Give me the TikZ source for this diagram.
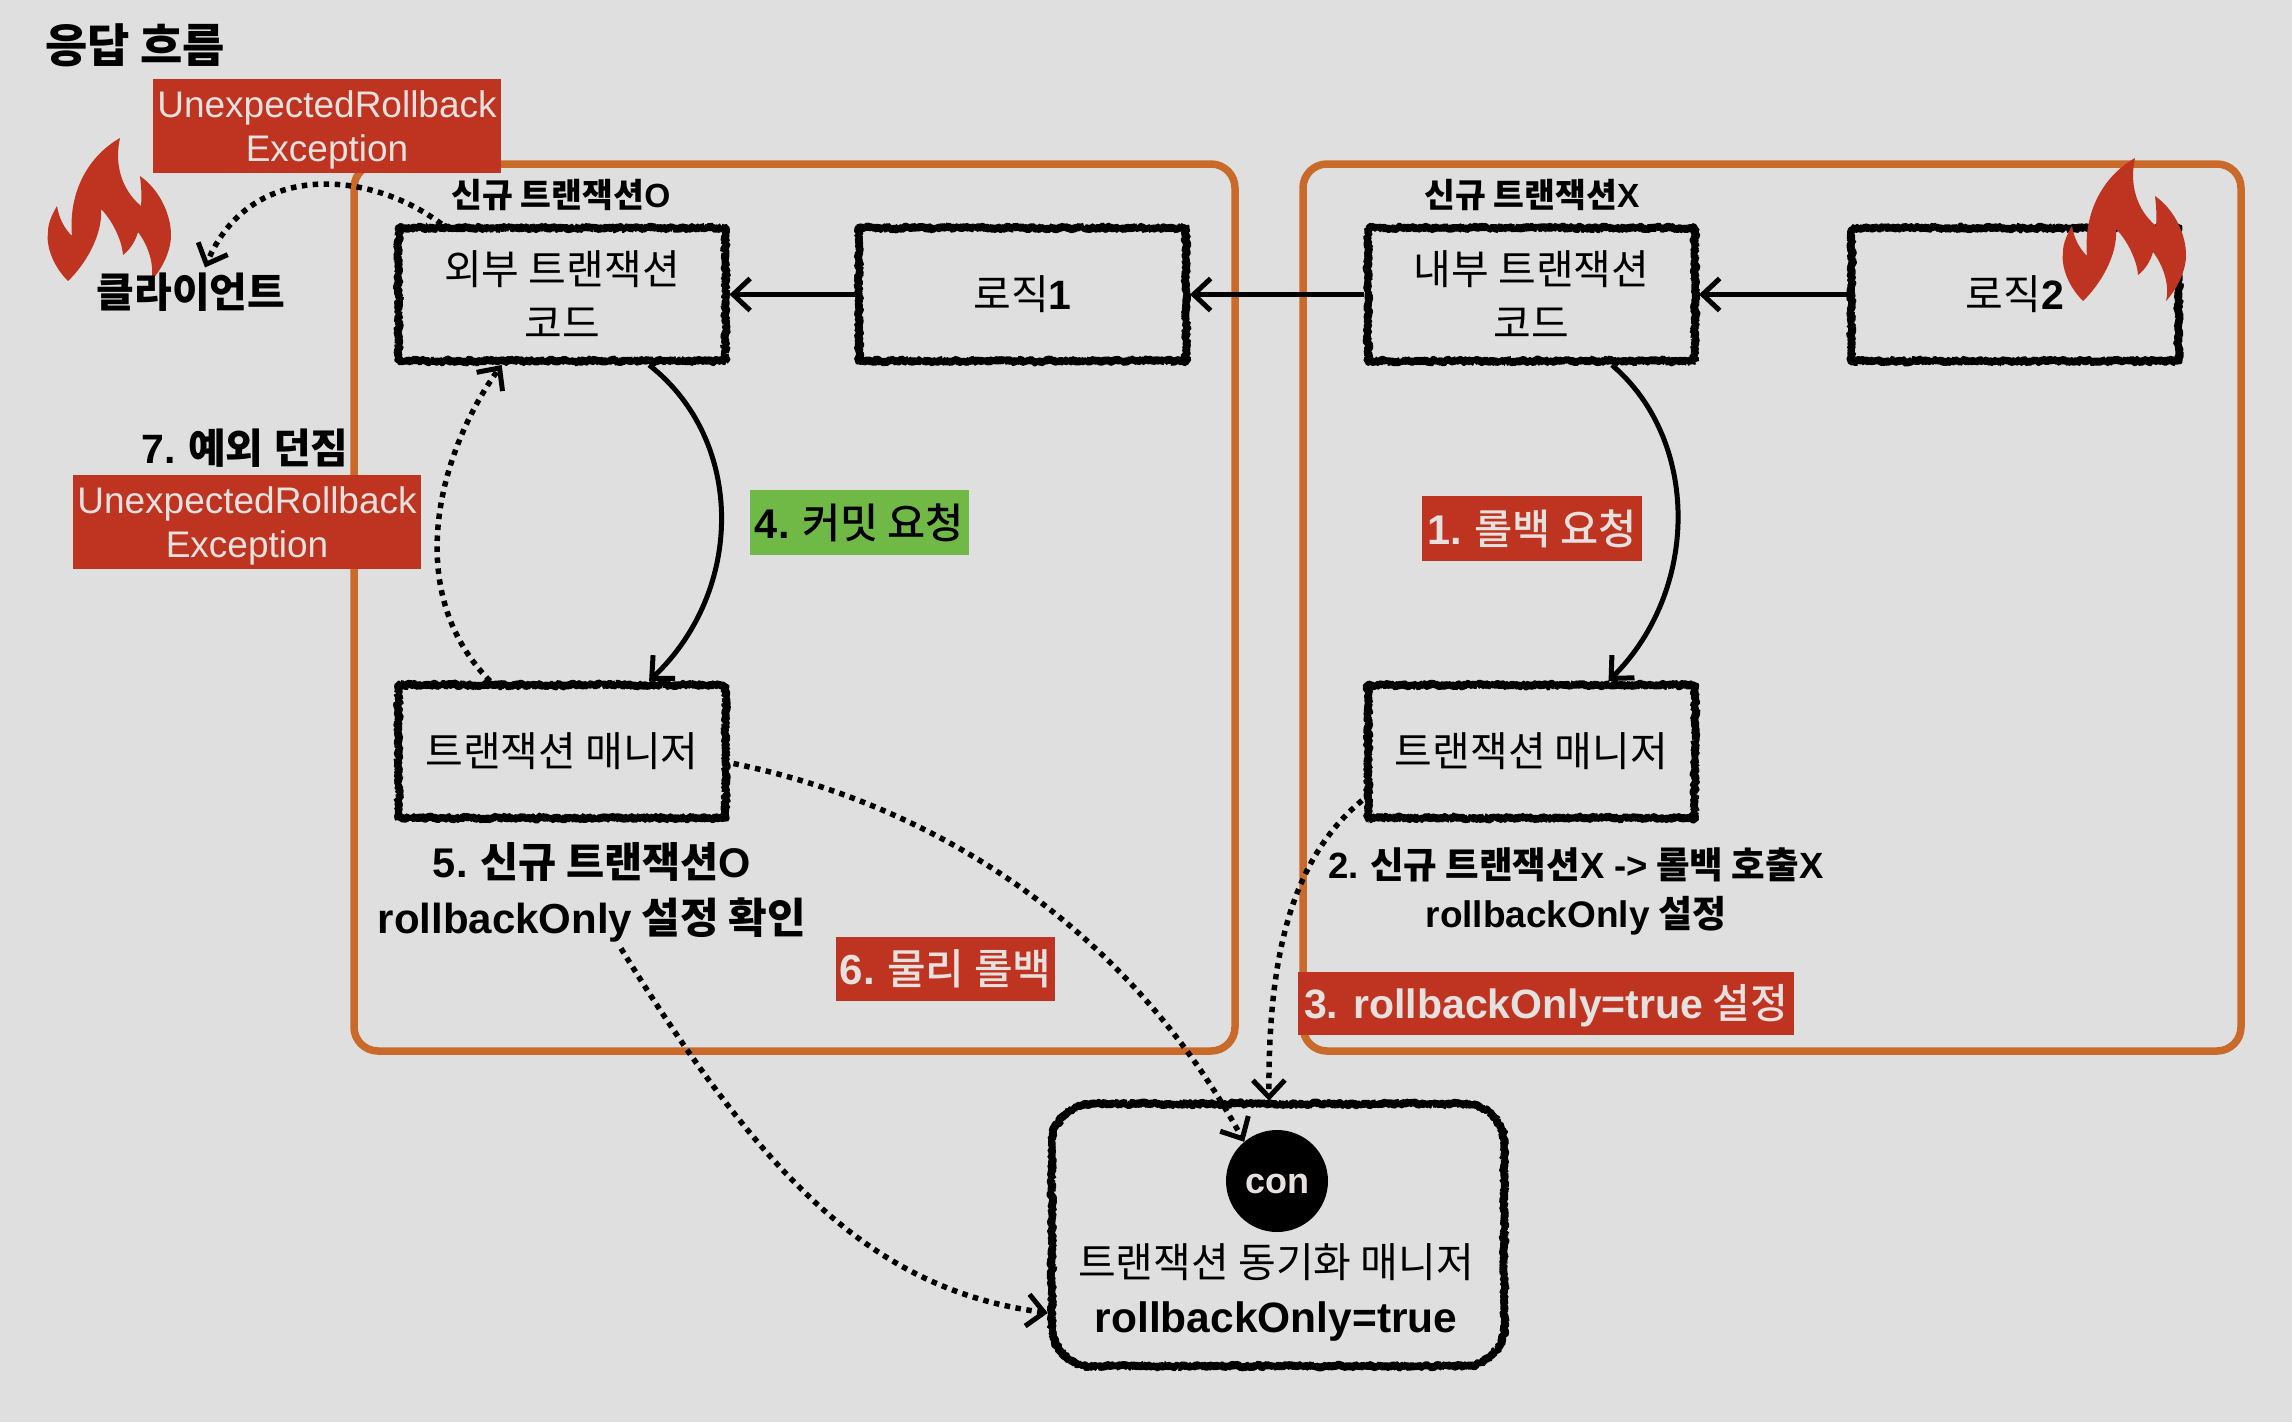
\documentclass[tikz,border=0pt]{standalone}
\usepackage{fontspec}
\setmainfont{Noto Sans CJK KR}
\newfontfamily\krmed{Noto Sans CJK KR Medium}
\newfontfamily\lat{Liberation Sans}
\usetikzlibrary{arrows.meta,decorations.pathmorphing,calc}
\definecolor{bgc}{HTML}{DFDFDF}
\definecolor{frameo}{HTML}{C96A2B}
\definecolor{redl}{HTML}{BE3420}
\definecolor{greenl}{HTML}{70B947}
\definecolor{lighttxt}{HTML}{E6E0DE}
\newcommand{\fs}[1]{\pgfmathsetmacro\myblskip{#1*1.25}\fontsize{#1}{\myblskip}\selectfont}
\tikzset{
  x=1pt,y=-1pt,
  roughline/.style={draw=black,line width=8pt,line join=bevel,decorate,decoration={random steps,segment length=1.2pt,amplitude=1.4pt}},
  roughbox/.style={roughline,minimum width=327pt,minimum height=133pt,inner sep=0pt,align=center,font=\fs{41}},
  txt/.style={inner sep=0pt,align=center,text=black},
  boldtxt/.style={txt,font=\bfseries\fs{40}},
  lighttext/.style={inner sep=0pt,align=center,text=lighttxt},
  framebox/.style={draw=frameo,line width=7.5pt,rounded corners=24pt,inner sep=0pt},
  labelbox/.style={inner sep=0pt,align=center,text=lighttxt,fill=#1},
  arr/.style={draw=black,line width=5pt,-{Straight Barb[length=17pt,width=32pt,line width=5pt]}},
  dot/.style={arr,line width=5.5pt,dash pattern=on 5.5pt off 5.5pt},
  flamepic/.pic={\fill[redl] (68,281) .. controls (52,265) and (46,245) .. (48,232) .. controls (48,222) and (53,213) .. (57,206) .. controls (59,218) and (64,228) .. (72,236) .. controls (68,190) and (90,155) .. (120,138) .. controls (114,165) and (122,190) .. (141,206) .. controls (142,195) and (141,185) .. (140,176) .. controls (160,190) and (171,215) .. (171,235) .. controls (171,250) and (163,268) .. (151,281) .. controls (155,265) and (148,245) .. (138,232) .. controls (136,240) and (130,250) .. (123,255) .. controls (122,240) and (112,220) .. (101,209) .. controls (103,235) and (85,265) .. (68,281) -- cycle;},
}
\pgfmathsetseed{7}
\begin{document}
\begin{tikzpicture}
\useasboundingbox (0,0) rectangle (2292,1422);
\fill[bgc] (0,0) rectangle (2292,1422);

% frames
\node[framebox,minimum width=881pt,minimum height=887pt] (leftframe) at (794.5,607.5) {};
\node[framebox,minimum width=938pt,minimum height=887pt] (rightframe) at (1772,607.5) {};

% boxes
\node[roughbox] (outer) at (562,294.5) {외부 트랜잭션\\[2pt]코드};
\node[roughbox] (logicone) at (1022.5,294.5) {로직{\lat\bfseries 1}};
\node[roughbox] (inner) at (1531.5,294.5) {내부 트랜잭션\\[2pt]코드};
\node[roughbox] (logictwo) at (2015,294.5) {로직{\lat\bfseries 2}};
\node[roughbox] (mgrl) at (562,751.5) {트랜잭션 매니저};
\node[roughbox] (mgrr) at (1531.5,751.5) {트랜잭션 매니저};
\node[inner sep=0pt,minimum width=452pt,minimum height=262pt] (sync) at (1278,1235) {};
\draw[roughline] ($(sync.north west)+(40,0)$) -- ($(sync.north east)+(-40,0)$) arc[start angle=90,end angle=0,radius=40pt]
  -- ($(sync.south east)+(0,-40)$) arc[start angle=0,end angle=-90,radius=40pt]
  -- ($(sync.south west)+(40,0)$) arc[start angle=-90,end angle=-180,radius=40pt]
  -- ($(sync.north west)+(0,40)$) arc[start angle=180,end angle=90,radius=40pt] -- cycle;
\node[circle,fill=black,minimum size=102pt,inner sep=0pt] (con) at (1277,1181) {};
\node[txt,text=lighttxt,font=\lat\bfseries\fs{36}] (contxt) at (1277,1184) {con};
\node[txt,font=\fs{41}] (synctxt) at (1276,1262) {트랜잭션 동기화 매니저};
\node[txt,font=\lat\bfseries\fs{42.5}] (syncval) at (1276,1321) {rollbackOnly=true};

% flames
\pic at (0,0) {flamepic};
\pic at (2015,20) {flamepic};

% texts
\node[boldtxt,font=\bfseries\fs{46}] (title) at (135,45) {응답 흐름};
\node[boldtxt,font=\bfseries\fs{41}] (client) at (191,292) {클라이언트};
\node[boldtxt,font=\bfseries\fs{33.5}] (newo) at (561,195) {신규 트랜잭션{\lat\bfseries O}};
\node[boldtxt,font=\bfseries\fs{33.5}] (newx) at (1532,195) {신규 트랜잭션{\lat\bfseries X}};
\node[boldtxt,font=\bfseries\fs{41}] (seven) at (245,448) {{\lat\bfseries 7.} 예외 던짐};
\node[boldtxt,font=\bfseries\fs{41.5}] (fivea) at (592,862) {{\lat\bfseries 5.} 신규 트랜잭션{\lat\bfseries O}};
\node[boldtxt,font=\bfseries\fs{42}] (fiveb) at (592,920) {{\lat\bfseries rollbackOnly} 설정 확인};
\node[boldtxt,font=\bfseries\fs{36.5}] (twoa) at (1576,865) {{\lat\bfseries 2.} 신규 트랜잭션{\lat\bfseries X ->} 롤백 호출{\lat\bfseries X}};
\node[boldtxt,font=\bfseries\fs{37}] (twob) at (1576,916) {{\lat\bfseries rollbackOnly} 설정};

% coloured labels
\node[labelbox=redl,minimum width=348pt,minimum height=94pt] (exca) at (327,126) {};
\node[lighttext,font=\lat\fs{37}] (excatxt) at (327,130) {UnexpectedRollback\\[-3pt]Exception};
\node[labelbox=redl,minimum width=348pt,minimum height=94pt] (excb) at (247,522) {};
\node[lighttext,font=\lat\fs{37}] (excbtxt) at (247,526) {UnexpectedRollback\\[-3pt]Exception};
\node[labelbox=redl,minimum width=220pt,minimum height=65pt,font=\krmed\fs{41.5}] (one) at (1532,528.5) {{\lat\bfseries 1.} 롤백 요청};
\node[labelbox=redl,minimum width=496pt,minimum height=63pt] (three) at (1546,1003.5) {};
\node[lighttext,font=\krmed\fs{41}] (threetxt) at (1546,1006) {{\lat\bfseries 3. rollbackOnly=true} 설정};
\node[labelbox=redl,minimum width=219pt,minimum height=64pt,font=\krmed\fs{42}] (six) at (945.5,969) {{\lat\bfseries 6.} 물리 롤백};
\node[labelbox=greenl,minimum width=219pt,minimum height=65pt,font=\krmed\fs{41.5},text=black] (four) at (859.5,522.5) {{\lat\bfseries 4.} 커밋 요청};

% connector end points
\coordinate (outs) at ($(outer.south west)!0.76!(outer.south east)$);
\coordinate (mgrlt) at ($(mgrl.north west)!0.76!(mgrl.north east)$);
\coordinate (inns) at ($(inner.south west)!0.74!(inner.south east)$);
\coordinate (mgrrt) at ($(mgrr.north west)!0.73!(mgrr.north east)$);
\coordinate (mgrltl) at ($(mgrl.north west)!0.285!(mgrl.north east)$);
\coordinate (outsl) at ($(outer.south west)!0.32!(outer.south east)$);
\coordinate (outnl) at ($(outer.north west)!0.14!(outer.north east)$);
\coordinate (clientarr) at ($(client.north)+(14,-5)$);
\coordinate (mgrle) at ($(mgrl.east)+(4,12)$);
\coordinate (mgrrw) at ($(mgrr.west)+(-2,49)$);
\coordinate (syncn) at ($(sync.north)+(-9,-3)$);
\coordinate (fiveout) at ($(fiveb.south)+(29,6)$);
\coordinate (syncw) at ($(sync.west)+(-4,78)$);
\coordinate (conarr) at (con.130);

% connectors
\draw[arr] (logicone) -- (outer);
\draw[arr] (inner) -- (logicone);
\draw[arr] (logictwo) -- (inner);
\draw[arr] (outs) .. controls (745,440) and (745,590) .. (mgrlt);
\draw[arr] (inns) .. controls (1700,440) and (1700,590) .. (mgrrt);
\draw[dot] (mgrltl) .. controls (400,590) and (440,450) .. (outsl);
\draw[dot] (outnl) .. controls (370,170) and (250,160) .. (clientarr);
\draw[dot] (mgrle) .. controls (960,810) and (1140,950) .. (conarr);
\draw[dot] (mgrrw) .. controls (1290,860) and (1268,960) .. (syncn);
\draw[dot] (fiveout) .. controls (770,1190) and (880,1290) .. (syncw);
\end{tikzpicture}
\end{document}
